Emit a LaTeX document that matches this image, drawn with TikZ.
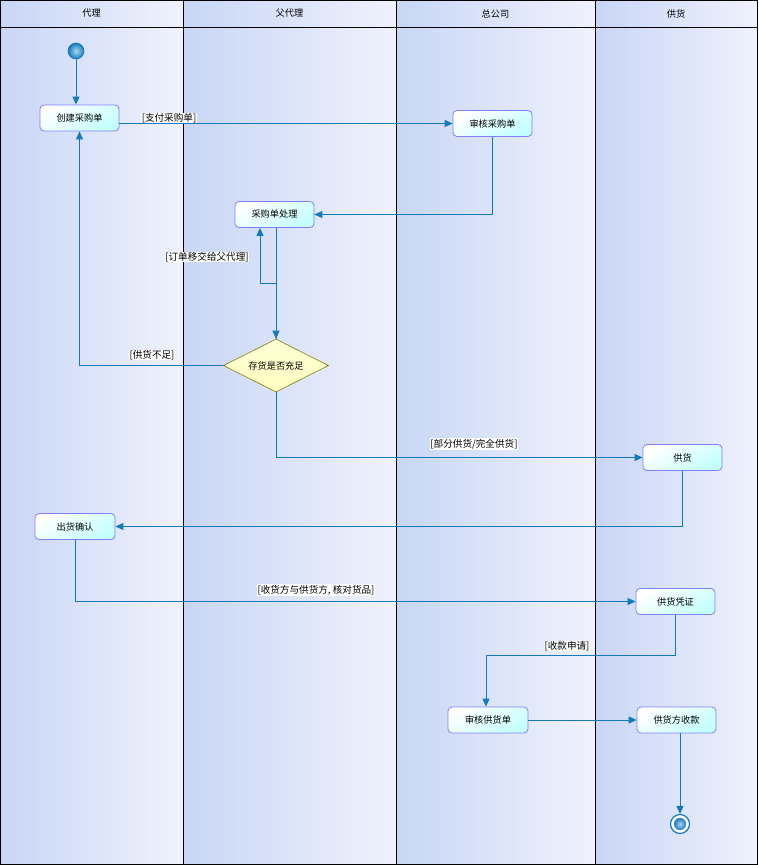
\documentclass[tikz,border=0pt]{standalone}
\usepackage{fontspec}
\newfontfamily\cjk{Noto Sans CJK SC}
\usetikzlibrary{shapes.geometric,arrows.meta}
\definecolor{laneL}{RGB}{200,214,245}
\definecolor{laneR}{RGB}{240,242,253}
\definecolor{flowc}{RGB}{20,122,190}
\definecolor{boxline}{RGB}{128,128,255}
\definecolor{boxcyan}{RGB}{196,255,255}
\definecolor{diaY}{RGB}{255,255,190}
\definecolor{dialine}{RGB}{128,128,0}
\definecolor{ballin}{RGB}{175,215,235}
\tikzset{
  act/.style={draw=boxline, line width=0.8pt, rounded corners=4pt,
    top color=white, bottom color=boxcyan, shading angle=30,
    minimum width=79pt, minimum height=26pt, inner sep=0pt,
    font=\cjk\fontsize{9.2}{10}\selectfont},
  decide/.style={diamond, draw=dialine, line width=0.6pt, aspect=2,
    top color=white!40!diaY, bottom color=diaY, inner sep=0pt,
    minimum width=105pt, minimum height=53pt,
    font=\cjk\fontsize{9.2}{10}\selectfont},
  flow/.style={draw=flowc, line width=0.9pt,
    -{Triangle[length=8pt,width=7pt]}},
  guard/.style={fill=white, inner sep=0.6pt,
    font=\cjk\fontsize{9.6}{10}\selectfont},
  lanehead/.style={font=\cjk\fontsize{9.2}{10}\selectfont},
  lane/.style={left color=laneL, right color=laneR, draw=none},
  orb/.style={circle, inner color=ballin, outer color=flowc, inner sep=0pt},
}
\begin{document}
\begin{tikzpicture}[x=1pt,y=-1pt]
\useasboundingbox (0,0) rectangle (758,865);
% swimlane backgrounds
\shade[lane] (0,0) rectangle (183,865);
\shade[lane] (183,0) rectangle (396,865);
\shade[lane] (396,0) rectangle (595,865);
\shade[lane] (595,0) rectangle (758,865);
% lane frame
\draw[line width=0.9pt] (0.5,0.5) rectangle (757.5,864.5);
\draw[line width=0.9pt] (0.5,27) -- (757.5,27);
\foreach \xx in {183,396,595} \draw[line width=0.9pt] (\xx,0.5) -- (\xx,864.5);
\node[lanehead] (h1) at (91.5,13.5) {代理};
\node[lanehead] (h2) at (289.5,13.5) {父代理};
\node[lanehead] (h3) at (495.5,13.5) {总公司};
\node[lanehead] (h4) at (676,13.5) {供货};

% start and end
\node[orb, draw=flowc, line width=0.6pt, minimum size=16pt] (start) at (76,51) {};
\node[circle, draw=flowc, line width=1.2pt, fill=white, minimum size=19pt, inner sep=0pt] (end) at (680,824) {};
\node[orb, minimum size=12pt] (endcore) at (end) {};

% activities
\node[act] (cjcg) at (79.5,118) {创建采购单};
\node[act] (shcg) at (492.5,123.5) {审核采购单};
\node[act] (cgcl) at (274.5,214.5) {采购单处理};
\node[decide] (dia) at (276,365.5) {存货是否充足};
\node[act] (gh) at (682.5,457.5) {供货};
\node[act, minimum width=80pt] (chqr) at (75,526.5) {出货确认};
\node[act] (ghpz) at (675.5,601.5) {供货凭证};
\node[act, minimum width=80pt] (shgh) at (488,720) {审核供货单};
\node[act] (ghsk) at (676.5,720) {供货方收款};

\coordinate (loopc) at (260,283);
\coordinate (paydn) at (675,655);

% connectors
\draw[flow] (start) -- (start |- cjcg.north);
\draw[flow] (cjcg.east |- shcg.west) -- (shcg.west);
\draw[flow] (shcg.south) |- (cgcl.east);
\draw[flow] (cgcl.south -| dia.north) -- (dia.north);
\draw[flow] (dia.north) |- (loopc) -- (loopc |- cgcl.south);
\draw[flow] (dia.west) -| (cjcg.south);
\draw[flow] (dia.south) |- (gh.west);
\draw[flow] (gh.south) |- (chqr.east);
\draw[flow] (chqr.south) |- (ghpz.west);
\draw[flow] (ghpz.south -| paydn) -- (paydn) -| (486,0 |- shgh.north);
\draw[flow] (shgh.east) -- (ghsk.west);
\draw[flow] (end |- ghsk.south) -- (end.north);

% guard labels
\node[guard] (g1) at (169,118) {[支付采购单]};
\node[guard] (g2) at (207,257) {[订单移交给父代理]};
\node[guard] (g3) at (152,355) {[供货不足]};
\node[guard] (g4) at (474,444) {[部分供货/完全供货]};
\node[guard] (g5) at (316,590) {[收货方与供货方, 核对货品]};
\node[guard] (g6) at (567,646) {[收款申请]};
\end{tikzpicture}
\end{document}
